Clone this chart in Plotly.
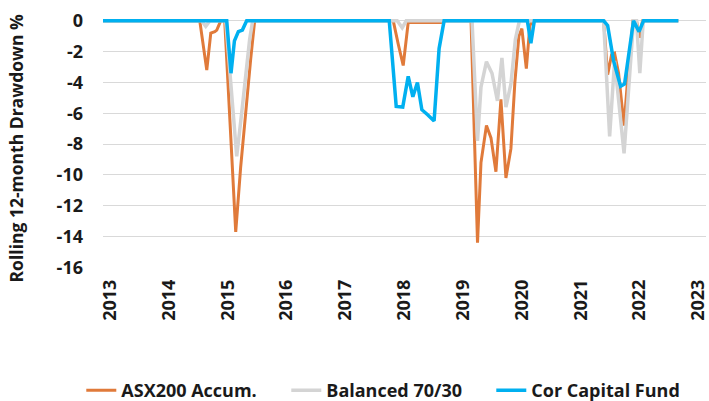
import plotly.graph_objects as go

# Decimal-year positions and rolling 12-month drawdown (%)
asx_x = [2012.88, 2014.525, 2014.644, 2014.712, 2014.780, 2014.814, 2014.881, 2014.949,
         2015.042, 2015.136, 2015.220, 2015.305, 2015.390, 2015.458,
         2017.814, 2017.898, 2017.983, 2018.068, 2018.627, 2018.695,
         2019.136, 2019.246, 2019.305, 2019.398, 2019.475, 2019.559, 2019.644, 2019.729,
         2019.814, 2019.881, 2019.949, 2020.000, 2020.076, 2020.136, 2020.186,
         2021.390, 2021.458, 2021.525, 2021.576, 2021.644, 2021.737, 2021.814, 2021.890,
         2021.949, 2022.000, 2022.051, 2022.66]
asx_y = [0, 0, -3.2, -0.8, -0.7, -0.6, 0, 0,
         -6.8, -13.7, -9.5, -5.8, -2.5, 0,
         0, -1.5, -2.9, -0.1, -0.1, 0,
         0, -14.4, -9.2, -6.8, -7.6, -9.8, -5.1, -10.2,
         -8.3, -4.0, -1.0, -0.5, -3.1, -0.3, 0,
         0, -3.5, -2.2, -2.1, -3.4, -6.8, -3.0, 0,
         0, -1.1, 0, 0]

bal_x = [2012.88, 2014.559, 2014.627, 2014.695, 2014.966, 2015.153, 2015.237, 2015.305,
         2015.373, 2015.424,
         2017.881, 2017.966, 2018.034,
         2019.153, 2019.246, 2019.305, 2019.398, 2019.492, 2019.585, 2019.661, 2019.729,
         2019.814, 2019.890, 2019.958,
         2021.390, 2021.492, 2021.576, 2021.737, 2021.898, 2021.949, 2022.005, 2022.063,
         2022.66]
bal_y = [0, 0, -0.35, 0, 0, -8.8, -6.0, -3.5,
         -1.2, 0,
         0, -0.45, 0,
         0, -7.8, -4.3, -2.65, -3.4, -5.2, -2.4, -5.6,
         -4.1, -1.2, 0,
         0, -7.5, -2.6, -8.6, 0, 0, -3.4, 0,
         0]

cor_x = [2012.88, 2014.983, 2015.056, 2015.114, 2015.181, 2015.249, 2015.322,
         2017.746, 2017.864, 2017.975, 2018.068, 2018.147, 2018.225, 2018.300, 2018.398,
         2018.508, 2018.593, 2018.678,
         2020.093, 2020.153, 2020.212,
         2021.390, 2021.458, 2021.559, 2021.678, 2021.746, 2021.898, 2021.992, 2022.068,
         2022.66]
cor_y = [0, 0, -3.4, -1.3, -0.7, -0.6, 0,
         0, -5.56, -5.6, -3.6, -4.93, -4.0, -5.77, -6.1,
         -6.5, -1.8, 0,
         0, -1.45, 0,
         0, -0.3, -2.6, -4.25, -4.1, 0, -0.7, 0,
         0]

series_names = ["ASX200 Accum.", "Balanced 70/30", "Cor Capital Fund"]
year_ticks = list(range(2013, 2024))
y_ticks = [0, -2, -4, -6, -8, -10, -12, -14, -16]

FONT = "Open Sans"
FS = 18

fig = go.Figure()
fig.add_trace(go.Scatter(x=asx_x, y=asx_y, mode="lines", name=series_names[0],
                         line=dict(color="#E07A3A", width=3)))
fig.add_trace(go.Scatter(x=bal_x, y=bal_y, mode="lines", name=series_names[1],
                         line=dict(color="#D4D4D4", width=3.5)))
fig.add_trace(go.Scatter(x=cor_x, y=cor_y, mode="lines", name=series_names[2],
                         line=dict(color="#00B0F0", width=3.5)))

fig.update_layout(
    width=709, height=401,
    margin=dict(l=103, r=3, t=17, b=133, autoexpand=False),
    paper_bgcolor="white", plot_bgcolor="white",
    font=dict(family=FONT, size=FS, color="#1a1a1a", weight="bold"),
    showlegend=True,
    legend=dict(orientation="h", x=-0.036, xanchor="left", y=-0.488, yanchor="middle",
                font=dict(family=FONT, size=FS, color="#1a1a1a", weight="bold"),
                entrywidth=160, bgcolor="rgba(0,0,0,0)"),
    xaxis=dict(range=[2012.88, 2023.13], tickvals=year_ticks,
               ticktext=[str(y) for y in year_ticks], tickangle=-90,
               showgrid=False, zeroline=False, showline=False, ticks="",
               ticklabelstandoff=7, automargin=False, ticklabeloverflow="allow",
               tickfont=dict(family=FONT, size=FS, color="#1a1a1a", weight="bold")),
    yaxis=dict(range=[-16.05, 0.25], tickvals=y_ticks,
               ticktext=[str(v) for v in y_ticks],
               showgrid=True, gridcolor="#D9D9D9", gridwidth=1,
               zeroline=False, showline=False, ticks="",
               ticklabelstandoff=19, automargin=False,
               tickfont=dict(family=FONT, size=FS, color="#1a1a1a", weight="bold")),
    annotations=[dict(text="Rolling 12-month Drawdown %", textangle=-90,
                      xref="paper", yref="paper", x=-0.1436, y=0.478,
                      xanchor="center", yanchor="middle", showarrow=False,
                      font=dict(family=FONT, size=17.5, color="#1a1a1a", weight="bold"))],
)

fig.write_html("out.html", config={"displayModeBar": False},
               post_script="document.body.style.margin='0';document.body.style.overflow='hidden';")
